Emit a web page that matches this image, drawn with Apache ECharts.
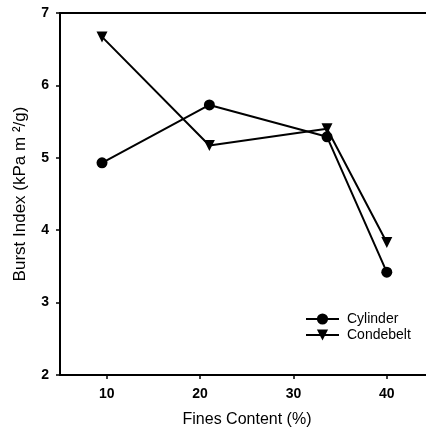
<!DOCTYPE html>
<html>
<head>
<meta charset="utf-8">
<script src="https://cdn.jsdelivr.net/npm/echarts@6/dist/echarts.min.js"></script>
<style>
  html, body { margin: 0; padding: 0; background: #fff; }
  #chart { width: 426px; height: 433px; }
</style>
</head>
<body>
<div id="chart"></div>
<script>
// values
const finesContent = [9.5, 21.0, 33.6, 40.0];
const cylinder = [4.93, 5.73, 5.29, 3.42];
const condebelt = [6.67, 5.17, 5.40, 3.83];
const xTicks = [10, 20, 30, 40];

const font = '"Liberation Sans", Arial, sans-serif';

function pairs(xs, ys) {
  return xs.map((x, i) => [x, ys[i]]);
}

const chart = echarts.init(document.getElementById('chart'));
const option = {
  animation: false,
  grid: {
    left: 60,
    top: 13,
    right: 0,
    bottom: 57
  },
  legend: {
    left: 300,
    top: 307,
    orient: 'vertical',
    itemWidth: 33,
    itemHeight: 14,
    itemGap: 2,
    textStyle: { fontFamily: font, fontSize: 14, color: '#000', padding: [0, 0, 0, 3] },
    data: ['Cylinder', 'Condebelt']
  },
  xAxis: [
    {
      type: 'value',
      min: 5,
      max: 44.2,
      name: 'Fines Content (%)',
      nameLocation: 'middle',
      nameGap: 37,
      nameTextStyle: { fontFamily: font, fontSize: 16, color: '#000', padding: [0, 0, 0, 8] },
      splitLine: { show: false },
      axisLine: { lineStyle: { color: '#000', width: 2 } },
      axisTick: { customValues: xTicks, length: 4, lineStyle: { color: '#000', width: 1.5 } },
      axisLabel: {
        customValues: xTicks,
        fontFamily: font,
        fontSize: 14,
        fontWeight: 'bold',
        color: '#000',
        margin: 12
      }
    },
    {
      type: 'value',
      position: 'top',
      min: 5,
      max: 44.2,
      splitLine: { show: false },
      axisLine: { show: true, lineStyle: { color: '#000', width: 2 } },
      axisTick: { show: false },
      axisLabel: { show: false }
    }
  ],
  yAxis: {
    type: 'value',
    min: 2,
    max: 7,
    interval: 1,
    name: 'Burst Index (kPa m \u00b2/g)',
    nameLocation: 'middle',
    nameGap: 31,
    nameTextStyle: { fontFamily: font, fontSize: 17, color: '#000' },
    splitLine: { show: false },
    axisLine: { show: true, lineStyle: { color: '#000', width: 2 } },
    axisTick: { show: true, length: 4, lineStyle: { color: '#000', width: 1.5 } },
    axisLabel: {
      fontFamily: font,
      fontSize: 14,
      fontWeight: 'bold',
      color: '#000',
      margin: 11
    }
  },
  series: [
    {
      name: 'Cylinder',
      type: 'line',
      data: pairs(finesContent, cylinder),
      symbol: 'circle',
      symbolSize: 11,
      lineStyle: { color: '#000', width: 2 },
      itemStyle: { color: '#000' }
    },
    {
      name: 'Condebelt',
      type: 'line',
      data: pairs(finesContent, condebelt),
      symbol: 'triangle',
      symbolRotate: 180,
      symbolSize: 11,
      lineStyle: { color: '#000', width: 2 },
      itemStyle: { color: '#000' }
    }
  ]
};
chart.setOption(option);
</script>
</body>
</html>
